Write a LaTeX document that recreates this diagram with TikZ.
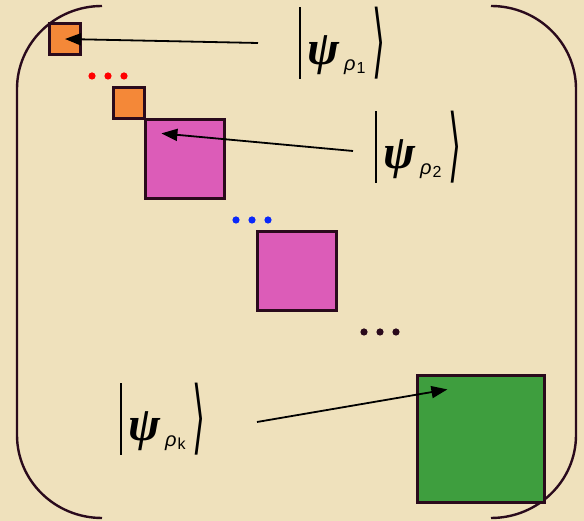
\documentclass[tikz,border=0pt]{standalone}
\usepackage{amsmath}
\usepackage{graphicx}
\usepackage{fontspec}
\usepackage{tikz}
\usetikzlibrary{arrows.meta,positioning,calc}
\newfontfamily\psifont{Liberation Serif}
\newfontfamily\subfont{Liberation Sans}
\newfontfamily\anglefont{DejaVu Sans}
\definecolor{parchment}{RGB}{239,225,188}
\definecolor{inkBrown}{RGB}{42,10,28}
\definecolor{blockOrange}{RGB}{244,136,56}
\definecolor{blockPink}{RGB}{220,92,184}
\definecolor{blockGreen}{RGB}{62,158,62}
\definecolor{dotBlue}{RGB}{10,40,250}
% |psi_{rho_#1}> with a tall bar and a tall angle
\newcommand{\psiket}[1]{%
  \rule[-14pt]{1.8pt}{72pt}\hspace{6pt}%
  {\psifont\bfseries\itshape\fontsize{48}{50}\selectfont ψ}\hspace{5pt}%
  \raisebox{-6pt}{\subfont\itshape\fontsize{20}{22}\selectfont ρ}\hspace{1pt}%
  \raisebox{-9pt}{\subfont\fontsize{16}{17}\selectfont #1}\hspace{7pt}%
  \raisebox{-14pt}[58pt][14pt]{\resizebox*{13pt}{72pt}{\raisebox{\depth}{\anglefont ⟩}}}}

\begin{document}
\begin{tikzpicture}[x=1pt,y=1pt,
    blockbox/.style={draw=inkBrown,line width=2.2pt,inner sep=0pt},
    ketlabel/.style={inner sep=0pt,anchor=base west},
    bracketline/.style={draw=inkBrown,line width=2.4pt},
    pointer/.style={-{Triangle[length=16pt,width=12pt]},line width=1.8pt,black}
  ]
    \fill[parchment] (0,0) rectangle (584,521);

    % big brackets of the matrix
    \draw[bracketline] (102,515) arc[start angle=90,end angle=180,x radius=85,y radius=83]
      -- (17,86) arc[start angle=180,end angle=270,x radius=85,y radius=83];
    \draw[bracketline] (491,515) arc[start angle=90,end angle=0,x radius=85,y radius=83]
      -- (576,86) arc[start angle=0,end angle=-90,x radius=85,y radius=83];

    % diagonal blocks
    \node[blockbox,minimum size=31pt,fill=blockOrange] (o1) at (65,482) {};
    \node[blockbox,minimum size=31pt,fill=blockOrange] (o2) at (129,418) {};
    \node[blockbox,minimum size=79pt,fill=blockPink] (p1) at (185,362) {};
    \node[blockbox,minimum size=79pt,fill=blockPink] (p2) at (297,250) {};
    \node[blockbox,minimum size=127pt,fill=blockGreen] (g) at (481,82) {};

    \foreach \x in {92,108,124} \fill[red] (\x,445) circle (3.6);
    \foreach \x in {236,252,268} \fill[dotBlue] (\x,301) circle (3.6);
    \foreach \x in {364,380,396} \fill[inkBrown] (\x,189) circle (3.6);

    % states
    \node[ketlabel] (k1) at (299,456) {\psiket{1}};
    \node[ketlabel] (k2) at (375,352) {\psiket{2}};
    \node[ketlabel] (kk) at (120,80) {\psiket{k}};

    \draw[pointer] ([xshift=-41pt]k1.west) -- (o1.center);
    \draw[pointer] ([shift={(-22pt,-4pt)}]k2.west) -- ([shift={(17pt,-15pt)}]p1.north west);
    \draw[pointer] ([shift={(137pt,-3pt)}]kk.west) -- ([shift={(31pt,-15pt)}]g.north west);
\end{tikzpicture}
\end{document}
